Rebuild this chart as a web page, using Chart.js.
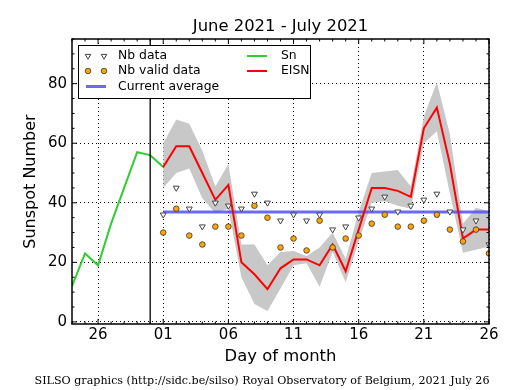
<!DOCTYPE html>
<html><head><meta charset="utf-8">
<script src="https://cdn.jsdelivr.net/npm/chart.js@4.4.0/dist/chart.umd.min.js"></script>
<style>html,body{margin:0;padding:0;background:#fff;}canvas{display:block;}</style>
</head><body>
<canvas id="c" width="515" height="390"></canvas>
<script>
// Day index: 1 = 1 July 2021, 0 = 30 June, -6 = 24 June
const snDays = [-6, -5, -4, -3, -2, -1, 0, 1];
const snValues = [12, 23, 19, 33, 45, 57, 56, 52];
const julyDays = [1, 2, 3, 4, 5, 6, 7, 8, 9, 10, 11, 12, 13, 14, 15, 16, 17, 18, 19, 20, 21, 22, 23, 24, 25, 26];
const eisnValues = [52, 59, 59, 50, 41, 46, 20, 16, 11, 18, 21, 21, 19, 26, 17, 31, 45, 45, 44, 42, 65, 72, 53, 28, 31, 31];
const eisnUpper = [60, 68, 66.5, 57.5, 45.5, 53, 26, 26, 19, 23.5, 23.8, 22.1, 25, 30, 21.2, 37, 50, 50.5, 51, 45.5, 69, 80.5, 63, 33, 38.3, 37.2];
const eisnLower = [45, 50, 51.5, 41.5, 36.5, 38, 15, 6, 3.7, 11.2, 19, 19.7, 11.8, 23.5, 13.3, 27, 40, 40.5, 39, 38, 60, 64, 43, 23.2, 24.2, 25.3];
const nbData = [36, 45, 38, 32, 40, 39, 38, 43, 40, 34, 36, 34, 36, 31, 32, 35, 38, 42, 37, 39, 41, 43, 37, 31, 34, 26];
const nbValid = [30, 38, 29, 26, 32, 32, 29, 39, 35, 25, 28, 24, 34, 25, 28, 29, 33, 36, 32, 32, 34, 36, 31, 27, 31, 23];
const currentAverage = 36.9;
const xTickValues = [-4, 1, 6, 11, 16, 21, 26];
const xTickLabels = ['26', '01', '06', '11', '16', '21', '26'];
const yTickValues = [0, 20, 40, 60, 80];
const separatorDay = 0;
const titleText = 'June 2021 - July 2021';
const footerText = 'SILSO graphics (http://sidc.be/silso) Royal Observatory of Belgium, 2021 July 26';

const pts = (xs, ys) => xs.map((d, i) => ({x: d, y: ys[i]}));
const SANS = '"DejaVu Sans", sans-serif';

function drawTri(ctx, x, y, r) {
  ctx.beginPath();
  ctx.moveTo(x - r * 0.866, y - r * 0.5);
  ctx.lineTo(x + r * 0.866, y - r * 0.5);
  ctx.lineTo(x, y + r);
  ctx.closePath();
  ctx.fillStyle = '#fff'; ctx.fill();
  ctx.strokeStyle = '#444'; ctx.lineWidth = 1; ctx.stroke();
}
function drawDot(ctx, x, y, r) {
  ctx.beginPath(); ctx.arc(x, y, r, 0, Math.PI * 2);
  ctx.fillStyle = '#ffa500'; ctx.fill();
  ctx.strokeStyle = '#333'; ctx.lineWidth = 0.8; ctx.stroke();
}

const decor = {
  id: 'decor',
  afterDatasetsDraw(chart) {
    const {ctx, chartArea: a, scales: {x, y}} = chart;
    ctx.save();
    ctx.strokeStyle = '#000';
    ctx.lineWidth = 1.3;
    const sx = x.getPixelForValue(separatorDay);
    ctx.beginPath(); ctx.moveTo(sx, a.top); ctx.lineTo(sx, a.bottom); ctx.stroke();
    ctx.lineWidth = 1;
    for (let d = Math.ceil(x.min); d <= x.max; d++) {
      const px = x.getPixelForValue(d);
      const len = xTickValues.includes(d) ? 5 : 2.5;
      ctx.beginPath();
      ctx.moveTo(px, a.bottom); ctx.lineTo(px, a.bottom - len);
      ctx.moveTo(px, a.top); ctx.lineTo(px, a.top + len);
      ctx.stroke();
    }
    for (let v = 0; v <= y.max; v += 5) {
      const py = y.getPixelForValue(v);
      const len = yTickValues.includes(v) ? 5 : 2.5;
      ctx.beginPath();
      ctx.moveTo(a.left, py); ctx.lineTo(a.left + len, py);
      ctx.moveTo(a.right, py); ctx.lineTo(a.right - len, py);
      ctx.stroke();
    }
    ctx.lineWidth = 1.5;
    ctx.strokeRect(a.left, a.top, a.right - a.left, a.bottom - a.top);
    ctx.restore();
  },
  afterDraw(chart) {
    const {ctx, chartArea: a} = chart;
    ctx.save();
    // legend
    ctx.fillStyle = '#fff'; ctx.strokeStyle = '#000'; ctx.lineWidth = 1;
    ctx.fillRect(78.5, 45.5, 232, 53);
    ctx.strokeRect(78.5, 45.5, 232, 53);
    const rows = [56, 71, 86.5];
    drawTri(ctx, 88, rows[0], 3.2); drawTri(ctx, 104, rows[0], 3.2);
    drawDot(ctx, 88, rows[1], 2.8); drawDot(ctx, 104, rows[1], 2.8);
    ctx.strokeStyle = 'rgba(80,80,255,0.85)'; ctx.lineWidth = 3;
    ctx.beginPath(); ctx.moveTo(86, rows[2]); ctx.lineTo(106, rows[2]); ctx.stroke();
    ctx.lineWidth = 2;
    ctx.strokeStyle = '#33cc33';
    ctx.beginPath(); ctx.moveTo(247, rows[0]); ctx.lineTo(267, rows[0]); ctx.stroke();
    ctx.strokeStyle = '#ff0000';
    ctx.beginPath(); ctx.moveTo(247, rows[1]); ctx.lineTo(267, rows[1]); ctx.stroke();
    ctx.fillStyle = '#000';
    ctx.font = '12.4px ' + SANS;
    ctx.textBaseline = 'middle'; ctx.textAlign = 'left';
    ctx.fillText('Nb data', 118, rows[0]);
    ctx.fillText('Nb valid data', 118, rows[1]);
    ctx.fillText('Current average', 118, rows[2]);
    ctx.fillText('Sn', 281, rows[0]);
    ctx.fillText('EISN', 281, rows[1]);
    // title
    ctx.font = '16.4px ' + SANS;
    ctx.textAlign = 'center';
    ctx.fillText(titleText, (a.left + a.right) / 2, 27);
    // footer
    ctx.font = '10px "DejaVu Serif", serif';
    const w = ctx.measureText(footerText).width;
    const fs = 10 * 455 / w;
    ctx.font = fs.toFixed(2) + 'px "DejaVu Serif", serif';
    ctx.fillText(footerText, 262, 381);
    ctx.restore();
  }
};

new Chart(document.getElementById('c'), {
  type: 'line',
  data: {
    datasets: [
      {data: pts(julyDays, eisnUpper), borderWidth: 0, pointRadius: 0, fill: false, order: 10, borderColor: 'rgba(0,0,0,0)'},
      {data: pts(julyDays, eisnLower), borderWidth: 0, pointRadius: 0, fill: '-1', backgroundColor: '#c8c8c8', order: 9, borderColor: 'rgba(0,0,0,0)'},
      {data: pts([1, 26], [currentAverage, currentAverage]), borderColor: 'rgba(80,80,255,0.85)', borderWidth: 3, pointRadius: 0, order: 6},
      {data: pts(snDays, snValues), borderColor: '#33cc33', borderWidth: 2, pointRadius: 0, order: 5},
      {data: pts(julyDays, eisnValues), borderColor: '#ff0000', borderWidth: 2, pointRadius: 0, order: 4},
      {data: pts(julyDays, nbData), showLine: false, pointStyle: 'triangle', rotation: 180, pointRadius: 3.4, pointBackgroundColor: '#fff', pointBorderColor: '#444', pointBorderWidth: 1, order: 2},
      {data: pts(julyDays, nbValid), showLine: false, pointStyle: 'circle', pointRadius: 2.8, pointBackgroundColor: '#ffa500', pointBorderColor: '#333', pointBorderWidth: 0.8, order: 1}
    ]
  },
  options: {
    responsive: false,
    devicePixelRatio: 1,
    animation: false,
    layout: {padding: {left: 0, right: 26, top: 39, bottom: 0}},
    plugins: {legend: {display: false}, tooltip: {enabled: false}, title: {display: false}},
    elements: {line: {tension: 0}},
    scales: {
      x: {
        type: 'linear', min: -6, max: 26,
        afterBuildTicks: s => { s.ticks = xTickValues.map(v => ({value: v})); },
        afterFit: s => { s.height = 66; },
        ticks: {autoSkip: false, maxRotation: 0, padding: 2, color: '#000', font: {family: SANS, size: 15},
          callback: v => { const i = xTickValues.indexOf(v); return i >= 0 ? xTickLabels[i] : ''; }},
        grid: {color: '#000', lineWidth: 1, drawTicks: false},
        border: {display: false, dash: [1, 3]},
        title: {display: true, text: 'Day of month', color: '#000', font: {family: SANS, size: 16.4}, padding: {top: 0, bottom: 23.4}}
      },
      y: {
        type: 'linear', min: -0.7, max: 95,
        afterBuildTicks: s => { s.ticks = yTickValues.map(v => ({value: v})); },
        afterFit: s => { s.width = 72; },
        ticks: {padding: 5, color: '#000', font: {family: SANS, size: 15}},
        grid: {color: '#000', lineWidth: 1, drawTicks: false},
        border: {display: false, dash: [1, 3]},
        title: {display: true, text: 'Sunspot Number', color: '#000', font: {family: SANS, size: 16}, padding: {top: 21, bottom: 0}}
      }
    }
  },
  plugins: [decor]
});
</script>
</body></html>
